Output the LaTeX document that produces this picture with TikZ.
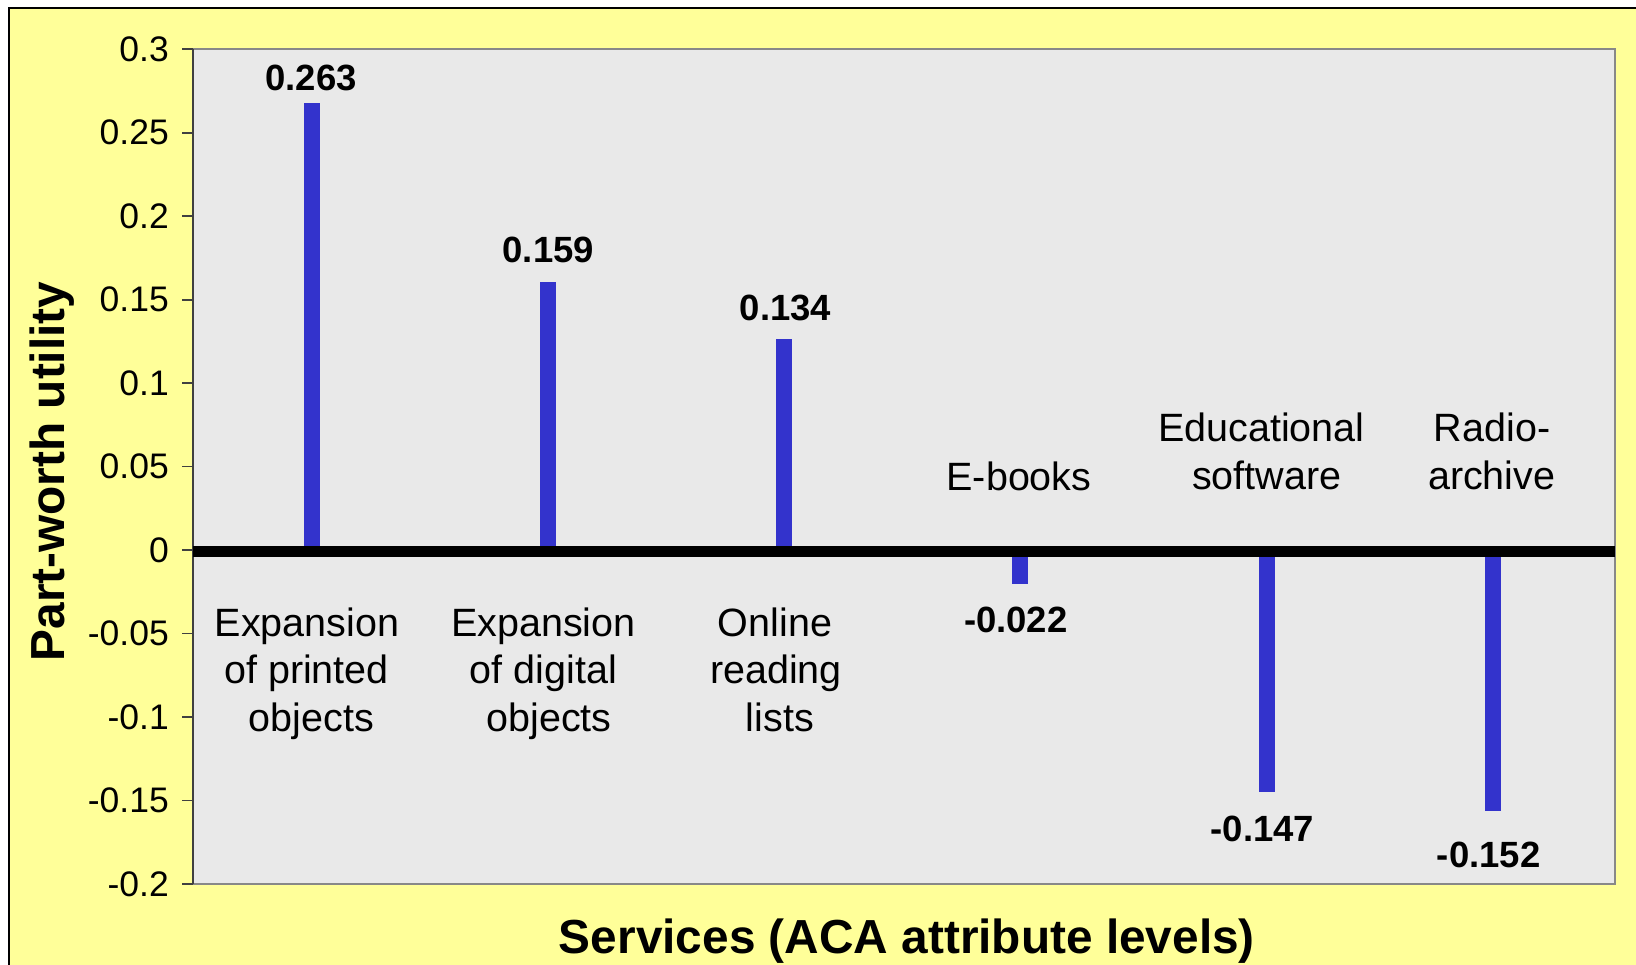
\documentclass[tikz,border=0pt]{standalone}
\usepackage{fontspec}
\setmainfont{Liberation Sans}

\definecolor{chartbg}{HTML}{FFFF99}
\definecolor{plotbg}{HTML}{E9E9E9}
\definecolor{barblue}{HTML}{3333CC}
\definecolor{plotedge}{HTML}{888888}
\definecolor{axisdark}{HTML}{404040}

\tikzset{
  ticklabel/.style={anchor=east, inner sep=0pt, font=\fontsize{35.5}{40}\selectfont},
  vallabel/.style={anchor=base, inner sep=0pt, font=\bfseries\fontsize{36.5}{42}\selectfont},
  catlabel/.style={anchor=base, inner sep=0pt, font=\fontsize{39.5}{47.5}\selectfont},
  axistitle/.style={anchor=base, inner sep=0pt, font=\bfseries\fontsize{47.8}{56}\selectfont},
  barfill/.style={fill=barblue},
  tickmark/.style={draw=axisdark, line width=1.6pt},
}

\begin{document}
\begin{tikzpicture}[x=1pt, y=-1pt]
  \useasboundingbox (0,0) rectangle (1636,965);

  % chart area with its frame (running off the right and bottom edges)
  \fill[white] (0,0) rectangle (1636,965);
  \fill[chartbg] (9,8) rectangle (1640,970);
  \draw[black, line width=2pt] (9,970) -- (9,8) -- (1640,8);

  % plot area
  \fill[plotbg] (193,49.3) rectangle (1615,884);
  \draw[plotedge, line width=2pt] (193,49.3) rectangle (1615,884);
  \draw[axisdark, line width=1.6pt] (193,49.3) -- (193,884);

  % y ticks and their labels
  \foreach \k/\lab in {0/0.3, 1/0.25, 2/0.2, 3/0.15, 4/0.1, 5/0.05, 6/0,
                       7/-0.05, 8/-0.1, 9/-0.15, 10/-0.2} {
    \coordinate (tk\k) at (193, {49.3+83.47*\k});
    \draw[tickmark] (tk\k) -- ++(-11,0);
    \node[ticklabel] (tl\k) at (169, {49.3+83.47*\k}) {\lab};
  }

  % bars
  \foreach \xc/\yt in {311.7/103, 547.7/282, 783.6/339,
                       1020.3/584, 1266.7/792, 1493.3/811} {
    \fill[barfill] ({\xc-8},\yt) rectangle ({\xc+8},551.5);
  }

  % zero line
  \draw[black, line width=11.5pt] (193,551.5) -- (1615,551.5);

  % value labels
  \node[vallabel] (v1) at (311,   90.7)  {0.263};
  \node[vallabel] (v2) at (548.3, 263)   {0.159};
  \node[vallabel] (v3) at (785.5, 321)   {0.134};
  \node[vallabel] (v4) at (1015.8,632.7) {-0.022};
  \node[vallabel] (v5) at (1262.5,841)   {-0.147};
  \node[vallabel] (v6) at (1488.7,867.3) {-0.152};

  % category labels
  \node[catlabel] (c1a) at (307,   636)   {Expansion};
  \node[catlabel] (c1b) at (306.5, 683.5) {of printed};
  \node[catlabel] (c1c) at (311.5, 731)   {objects};
  \node[catlabel] (c2a) at (543.3, 636)   {Expansion};
  \node[catlabel] (c2b) at (543.3, 683.5) {of digital};
  \node[catlabel] (c2c) at (549,   731)   {objects};
  \node[catlabel] (c3a) at (775,   636)   {Online};
  \node[catlabel] (c3b) at (776,   683.5) {reading};
  \node[catlabel] (c3c) at (780,   731)   {lists};
  \node[catlabel] (c4a) at (1019,  490)   {E-books};
  \node[catlabel] (c5a) at (1261.3,441.7) {Educational};
  \node[catlabel] (c5b) at (1266.7,489.3) {software};
  \node[catlabel] (c6a) at (1492,  441.7) {Radio-};
  \node[catlabel] (c6b) at (1491.7,489.3) {archive};

  % axis titles
  \node[axistitle] (xtitle) at (907,953) {Services (ACA attribute levels)};
  \node[axistitle, rotate=90] (ytitle) at (64,471.5) {Part-worth utility};
\end{tikzpicture}
\end{document}
